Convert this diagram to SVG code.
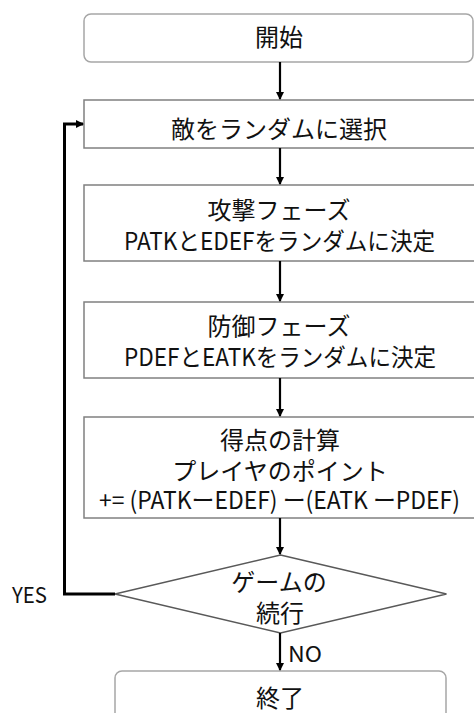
<svg xmlns="http://www.w3.org/2000/svg" width="474" height="713" viewBox="0 0 474 713">
<style>
.t{font-family:"Noto Sans CJK JP","Liberation Sans",sans-serif;font-size:24px;fill:#111;text-anchor:middle}
.l{font-family:"Noto Sans CJK JP","Liberation Sans",sans-serif;font-size:22px;fill:#111}
.term{fill:#fff;stroke:#a6a6a6;stroke-width:1.5}
.proc{fill:#fff;stroke:#808080;stroke-width:1.5}
.dec{fill:#fff;stroke:#595959;stroke-width:1.3}
.c{fill:none;stroke:#000;stroke-width:2.2}
.loop{fill:none;stroke:#000;stroke-width:3}
</style>
<defs>
<marker id="ah" markerWidth="8" markerHeight="8" refX="7" refY="4" orient="auto" markerUnits="userSpaceOnUse">
<path d="M0,0 L8,4 L0,8 Z" fill="#000"/>
</marker>
</defs>
<rect width="474" height="713" fill="#fff"/>
<g id="start">
<rect class="term" x="84" y="14" width="389" height="48" rx="7"/>
<text class="t" x="279" y="46">開始</text>
</g>
<g id="select">
<rect class="proc" x="84" y="100" width="392" height="48"/>
<text class="t" x="279" y="138">敵をランダムに選択</text>
</g>
<g id="attack">
<rect class="proc" x="84" y="185" width="392" height="76"/>
<text class="t" x="279" y="219">攻撃フェーズ</text>
<text class="t" x="279.5" y="250" textLength="311" lengthAdjust="spacingAndGlyphs">PATKとEDEFをランダムに決定</text>
</g>
<g id="defense">
<rect class="proc" x="84" y="302" width="392" height="76"/>
<text class="t" x="279" y="335">防御フェーズ</text>
<text class="t" x="280" y="366" textLength="312" lengthAdjust="spacingAndGlyphs">PDEFとEATKをランダムに決定</text>
</g>
<g id="score">
<rect class="proc" x="84" y="417" width="392" height="101"/>
<text class="t" x="280" y="449">得点の計算</text>
<text class="t" x="280" y="480">プレイヤのポイント</text>
<text class="t" x="279.5" y="509" textLength="361" lengthAdjust="spacingAndGlyphs">+= (PATKーEDEF) ー(EATK ーPDEF)</text>
</g>
<g id="continue">
<polygon class="dec" points="280.5,555 446.5,594 280.5,633 115,594"/>
<text class="t" x="279" y="591">ゲームの</text>
<text class="t" x="280" y="622">続行</text>
</g>
<g id="end">
<rect class="term" x="115" y="671" width="331" height="60" rx="7"/>
<text class="t" x="280" y="707">終了</text>
</g>
<g id="connectors">
<line class="c" x1="280" y1="62" x2="280" y2="99" marker-end="url(#ah)"/>
<line class="c" x1="280" y1="148" x2="280" y2="184" marker-end="url(#ah)"/>
<line class="c" x1="280" y1="261" x2="280" y2="301" marker-end="url(#ah)"/>
<line class="c" x1="280" y1="378" x2="280" y2="416" marker-end="url(#ah)"/>
<line class="c" x1="280" y1="518" x2="280" y2="554" marker-end="url(#ah)"/>
<line class="c" x1="280" y1="633" x2="280" y2="670" marker-end="url(#ah)"/>
<polyline class="loop" points="115,594 64.5,594 64.5,124 83,124" marker-end="url(#ah)"/>
<text class="l" x="12" y="603" textLength="35" lengthAdjust="spacingAndGlyphs">YES</text>
<text class="l" x="288" y="662" textLength="34" lengthAdjust="spacingAndGlyphs">NO</text>
</g>
</svg>
